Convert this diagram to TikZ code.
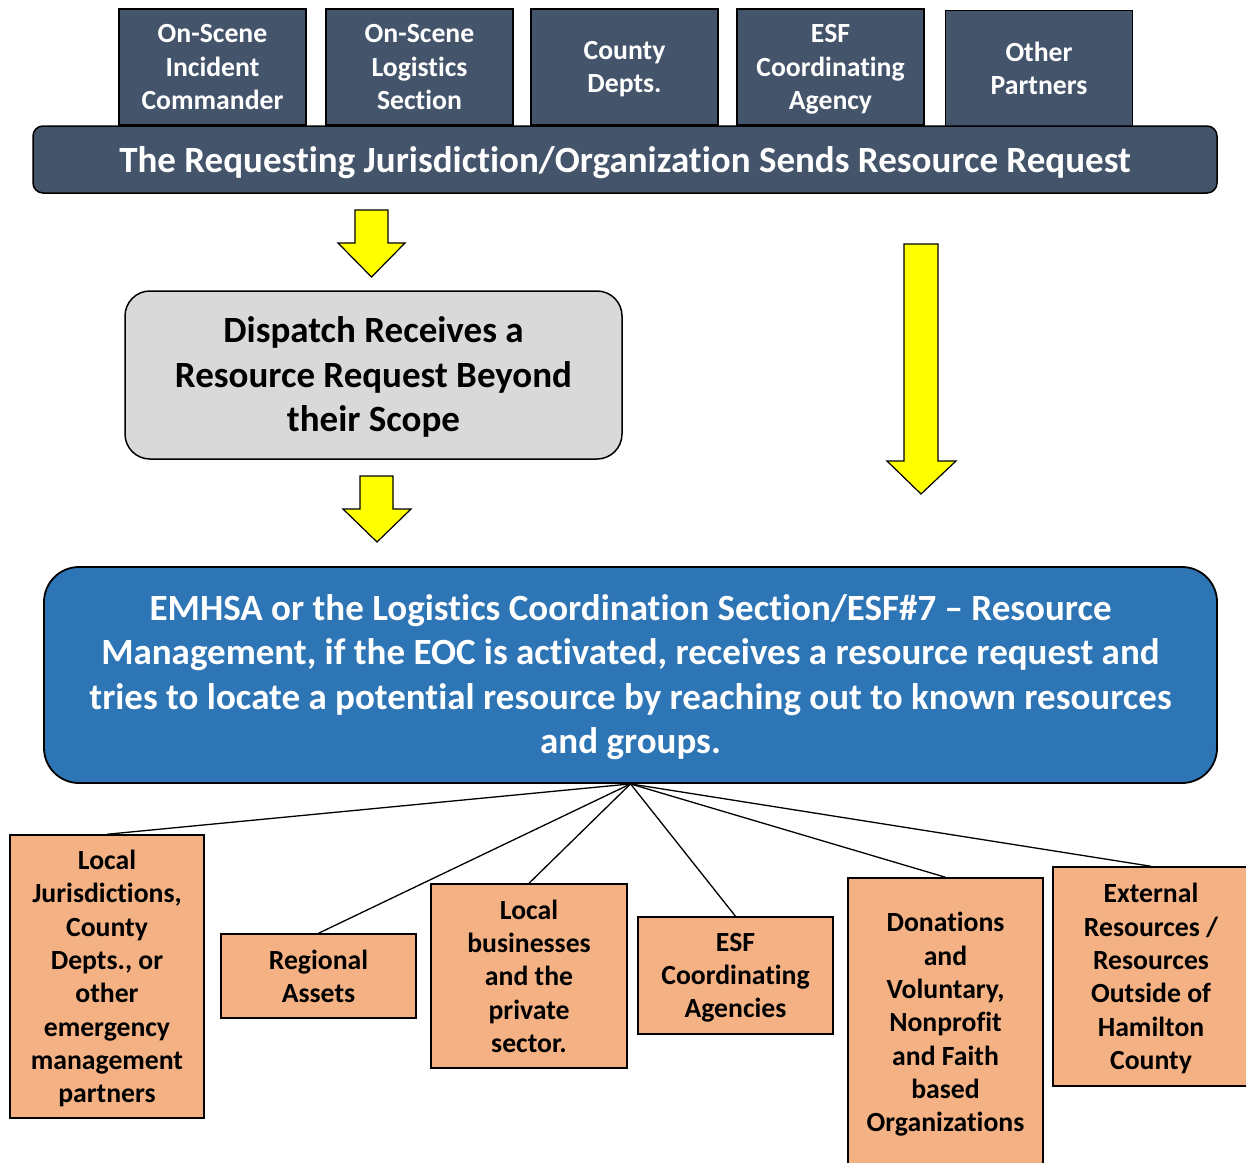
\documentclass[tikz,border=0pt]{standalone}
\usepackage{fontspec}
\setmainfont[Ligatures=NoCommon]{Carlito}
\newcommand\bstrut{\rule[-0.17\baselineskip]{0pt}{0.92\baselineskip}}
\definecolor{slate}{HTML}{44546A}
\definecolor{bluebox}{HTML}{2E75B6}
\definecolor{orangebox}{HTML}{F4B183}
\definecolor{graybox}{HTML}{D9D9D9}
\definecolor{arrowyellow}{HTML}{FFFF00}
\tikzset{
  topbox/.style={text depth=-4pt, draw=black, line width=1.5pt, fill=slate, text=white, font=\bfseries\fontsize{27.7}{33.3}\selectfont, align=center, minimum width=187pt, minimum height=116pt, inner sep=0pt},
  banner/.style={execute at begin node=\bstrut, execute at end node=\bstrut, draw=black, line width=1.5pt, fill=slate, text=white, rounded corners=10pt, font=\bfseries\fontsize{37}{44}\selectfont, align=center, minimum width=1184pt, minimum height=67pt, inner sep=0pt},
  orangebox/.style={text depth=0pt, draw=black, line width=1.5pt, fill=orangebox, text=black, font=\bfseries\fontsize{27.7}{33.3}\selectfont, align=center, inner sep=0pt},
  bigtext/.style={text depth=1.5pt, align=center, inner sep=0pt, font=\bfseries\fontsize{37}{44.5}\selectfont},
  yarrow/.style={draw=black, line width=1.2pt, fill=arrowyellow, line join=miter},
  link/.style={draw=black, line width=1.3pt}
}
\begin{document}
\begin{tikzpicture}[x=1pt,y=-1pt]
\useasboundingbox (0,0) rectangle (1246,1162);
\clip (0,0) rectangle (1246,1162);
% top boxes
\node[topbox] (t1) at (212.5,67) {On-Scene\\Incident\\Commander};
\node[topbox] (t2) at (419.5,67) {On-Scene\\Logistics\\Section};
\node[topbox] (t3) at (624.5,67) {County\\Depts.};
\node[topbox] (t4) at (830.5,67) {ESF\\Coordinating\\Agency};
\node[topbox] (t5) at (1039,68.5) {Other\\Partners};
% banner
\node[banner] (ban) at (625,159.5) {The Requesting Jurisdiction/Organization Sends Resource Request};
% yellow arrows
\path[yarrow] (355,210) -- (388,210) -- (388,243) -- (405,243) -- (371.5,277) -- (338,243) -- (355,243) -- cycle;
\path[yarrow] (360,476) -- (393,476) -- (393,509) -- (411,509) -- (377,542) -- (343,509) -- (360,509) -- cycle;
\path[yarrow] (904,244) -- (938,244) -- (938,461) -- (956,461) -- (921,494) -- (887,461) -- (904,461) -- cycle;
% dispatch
\node[bigtext, draw=black, line width=1.5pt, fill=graybox, rounded corners=25pt, minimum width=497pt, minimum height=168pt] (disp) at (373.5,375) {Dispatch Receives a\\Resource Request Beyond\\their Scope};
% blue box
\node[bigtext, draw=black, line width=1.8pt, fill=bluebox, text=white, rounded corners=35pt, minimum width=1173pt, minimum height=216pt] (emhsa) at (630.5,675) {EMHSA or the Logistics Coordination Section/ESF\#7 -- Resource\\Management, if the EOC is activated, receives a resource request and\\tries to locate a potential resource by reaching out to known resources\\and groups.};
% orange boxes
\node[orangebox, minimum width=194pt, minimum height=283pt] (o1) at (107,976.5) {Local\\Jurisdictions,\\County\\Depts., or\\other\\emergency\\management\\partners};
\node[orangebox, minimum width=195pt, minimum height=84pt] (o2) at (318.5,976) {Regional\\Assets};
\node[orangebox, minimum width=196pt, minimum height=184pt] (o3) at (529,976) {Local\\businesses\\and the\\private\\sector.};
\node[orangebox, minimum width=195pt, minimum height=117pt] (o4) at (735.5,975.5) {ESF\\Coordinating\\Agencies};
\node[orangebox, minimum width=195pt, minimum height=288pt] (o5) at (945.5,1022) {Donations\\and\\Voluntary,\\Nonprofit\\and Faith\\based\\Organizations};
\node[orangebox, minimum width=196pt, minimum height=219pt] (o6) at (1151,976.5) {External\\Resources /\\Resources\\Outside of\\Hamilton\\County};
% connectors
\foreach \b in {o1,o2,o3,o4,o5,o6} \draw[link] (emhsa.south) -- (\b.north);
\end{tikzpicture}
\end{document}
